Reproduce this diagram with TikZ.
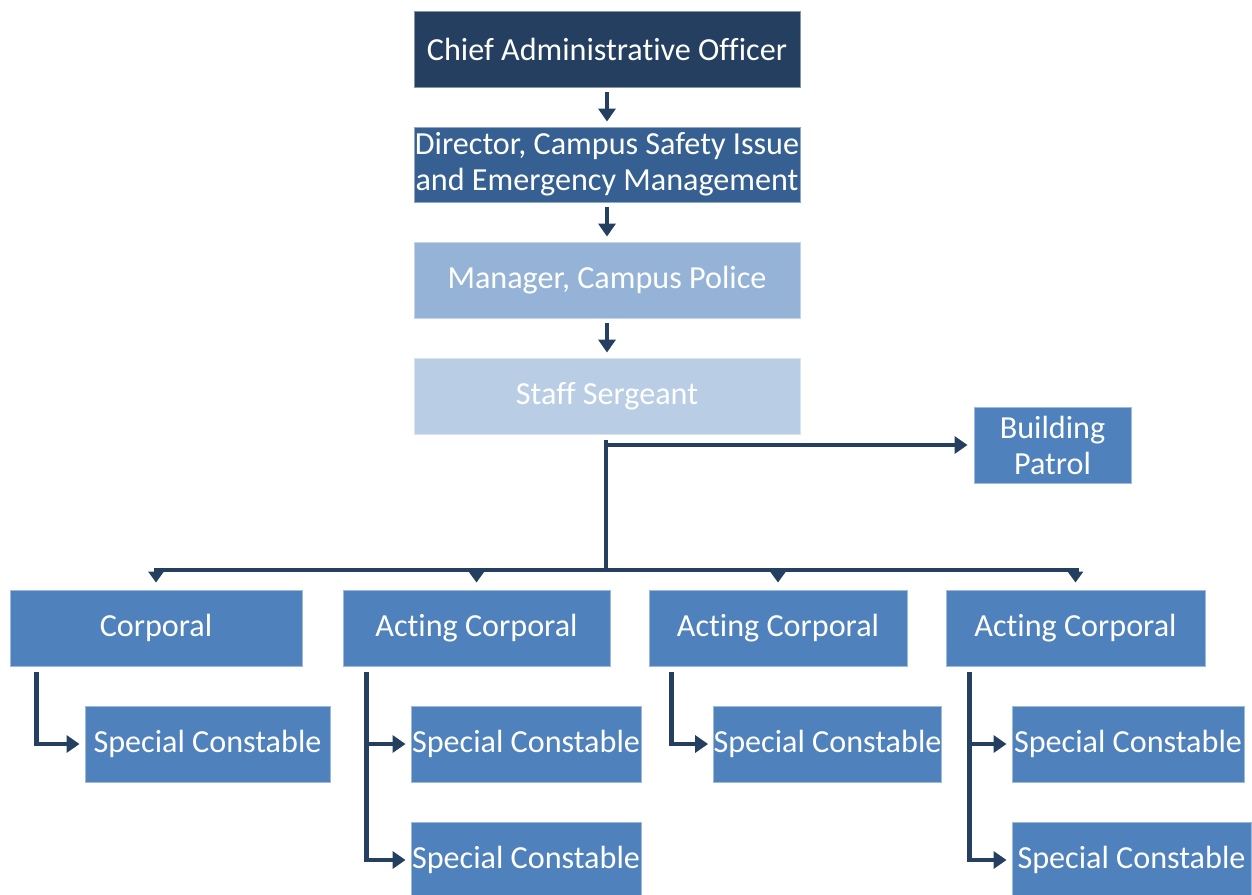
\documentclass[tikz,border=0pt]{standalone}
\usepackage{fontspec}
\setmainfont[Ligatures=NoCommon]{Carlito}
\usetikzlibrary{calc,arrows.meta}
\definecolor{navy}{HTML}{243F60}
\definecolor{dirc}{HTML}{366092}
\definecolor{mgrc}{HTML}{95B3D7}
\definecolor{ssc}{HTML}{B9CDE5}
\definecolor{basec}{HTML}{4F81BD}
\tikzset{
  box/.style={rectangle, inner sep=0pt, align=center, text=white, draw=white!45!#1, line width=0.5pt, fill=#1,
    font=\fontsize{18.3pt}{20.5pt}\selectfont},
  lowbox/.style={box=basec},
  conn/.style={draw=navy, line width=0.09cm},
  arr/.style={conn, -{Triangle[width=0.34cm,length=0.26cm]}},
  arrs/.style={conn, -{Triangle[width=0.3cm,length=0.22cm]}},
}
\newcommand{\bx}[7]{\node[#6, minimum width={(#4-#2)*0.02cm}, minimum height={(#5-#3)*0.02cm}] (#1) at ({(#2+#4)/2},{(#3+#5)/2}) {#7};}
\begin{document}
\begin{tikzpicture}[x=0.02cm,y=-0.02cm]
\useasboundingbox (0,0) rectangle (1252,894);
\bx{cao}{414}{11}{800}{87}{box=navy}{Chief Administrative Officer}
\bx{dir}{414}{127}{800}{202}{box=dirc}{Director, Campus Safety Issue\\and Emergency Management}
\bx{mgr}{414}{242}{800}{318}{box=mgrc}{Manager, Campus Police}
\bx{ss}{414}{358}{800}{434}{box=ssc}{Staff Sergeant}
\bx{bp}{974}{407}{1131}{483}{lowbox}{Building\\Patrol}
\bx{corp}{10}{590}{302}{666}{lowbox}{Corporal}
\bx{ac1}{343}{590}{610}{666}{lowbox}{Acting Corporal}
\bx{ac2}{649}{590}{907}{666}{lowbox}{Acting Corporal}
\bx{ac3}{946}{590}{1205}{666}{lowbox}{Acting Corporal}
\bx{sc1}{85}{706}{330}{782}{lowbox}{Special Constable}
\bx{sc2}{411}{706}{641}{782}{lowbox}{Special Constable}
\bx{sc3}{411}{822}{641}{898}{lowbox}{Special Constable}
\bx{sc4}{715}{706}{940}{782}{lowbox}{Special Constable}
\bx{sc5}{1012}{706}{1244}{782}{lowbox}{Special Constable}
\bx{sc6}{1012}{822}{1251}{898}{lowbox}{Special Constable}
% top chain
\draw[arr] ($(cao.south)+(0,5)$) -- ($(dir.north)+(0,-5)$);
\draw[arr] ($(dir.south)+(0,5)$) -- ($(mgr.north)+(0,-5)$);
\draw[arr] ($(mgr.south)+(0,5)$) -- ($(ss.north)+(0,-5)$);
% staff sergeant branches
\coordinate (bar) at (0,570);
\draw[conn] ($(ss.south)+(-1,6)$) -- ($(ss.south |- bar)+(-1,0)$);
\draw[arr] ($(ss.south |- bp.west)+(-1,0)$) -- ($(bp.west)+(-6,0)$);
\draw[conn] ($(corp.north |- bar)+(-2,0)$) -- ($(ac3.north |- bar)+(3,0)$);
\foreach \n in {corp,ac1,ac2,ac3}
  \draw[arrs] (\n.north |- bar) -- ($(\n.north)+(0,-7)$);
% corporal subordinates
\draw[arr] ($(corp.south west)+(27,6)$) |- ($(sc1.west)+(-5,0)$);
\draw[arr] ($(ac1.south west)+(24,6)$) |- ($(sc3.west)+(-5,0)$);
\draw[arr] ($(ac1.south west |- sc2.west)+(24,0)$) -- ($(sc2.west)+(-5,0)$);
\draw[arr] ($(ac2.south west)+(23,6)$) |- ($(sc4.west)+(-5,0)$);
\draw[arr] ($(ac3.south west)+(24,6)$) |- ($(sc6.west)+(-5,0)$);
\draw[arr] ($(ac3.south west |- sc5.west)+(24,0)$) -- ($(sc5.west)+(-5,0)$);
\end{tikzpicture}
\end{document}
